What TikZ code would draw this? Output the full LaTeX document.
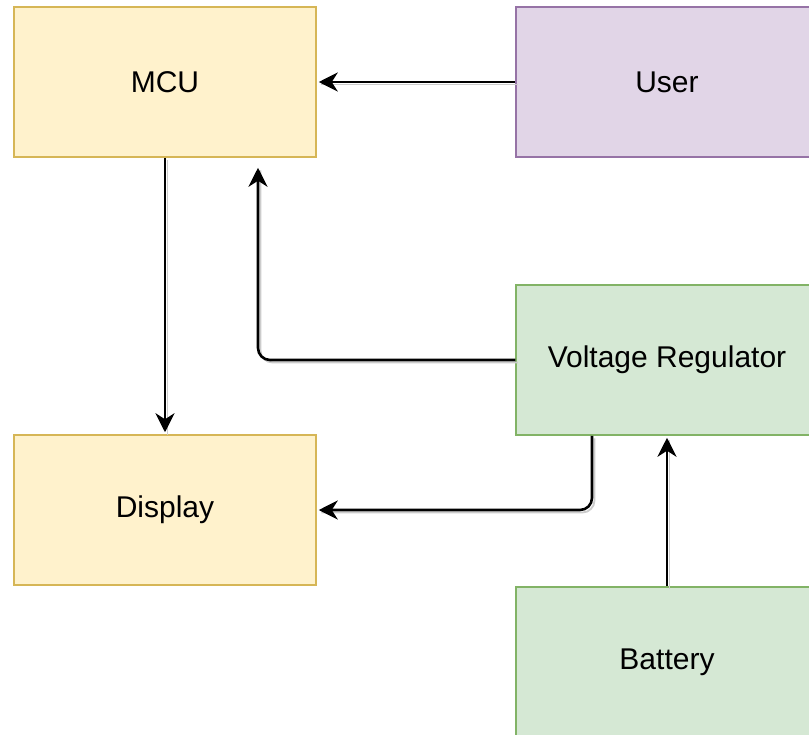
\documentclass[tikz,border=0pt]{standalone}
\usepackage{fontspec}
\setmainfont{Liberation Sans}
\usetikzlibrary{arrows.meta}
\definecolor{orfill}{HTML}{FFF2CC}
\definecolor{ordraw}{HTML}{D6B656}
\definecolor{pufill}{HTML}{E1D5E7}
\definecolor{pudraw}{HTML}{9673A6}
\definecolor{grfill}{HTML}{D5E8D4}
\definecolor{grdraw}{HTML}{82B366}
\tikzset{
  blk/.style={draw, line width=1.5pt, minimum width=302pt, minimum height=150pt, inner sep=0pt, font=\fontsize{30}{34}\selectfont},
  orblk/.style={blk, fill=orfill, draw=ordraw},
  publk/.style={blk, fill=pufill, draw=pudraw},
  grblk/.style={blk, fill=grfill, draw=grdraw},
  conn/.style={line width=2.6pt, rounded corners=12pt, -{Stealth[length=19pt,width=19pt,inset=6pt]},
    preaction={draw=black!20, line width=1.8pt, -, transform canvas={xshift=2.5pt,yshift=-2.5pt}}}
}
\begin{document}
\begin{tikzpicture}[x=1pt,y=-1pt]
\useasboundingbox (0,0) rectangle (809,734);
\clip (0,0) rectangle (809,734);
\fill[white] (0,0) rectangle (809,734);
\node[orblk] (mcu) at (165,82) {MCU};
\node[publk] (user) at (667,82) {User};
\node[grblk] (vr) at (667,360) {Voltage Regulator};
\node[orblk] (disp) at (165,510) {Display};
\node[grblk] (bat) at (667,662) {Battery};
\draw[conn, shorten >=2pt] (user.west) -- (mcu.east);
\draw[conn, shorten >=2pt] (mcu.south) -- (disp.north);
\draw[conn, shorten >=10pt] (vr.west) -| ([xshift=93pt]mcu.south);
\draw[conn, shorten >=2pt] ([xshift=-75pt]vr.south) |- (disp.east);
\draw[conn, shorten >=2pt] (bat.north) -- (vr.south);
\end{tikzpicture}
\end{document}
